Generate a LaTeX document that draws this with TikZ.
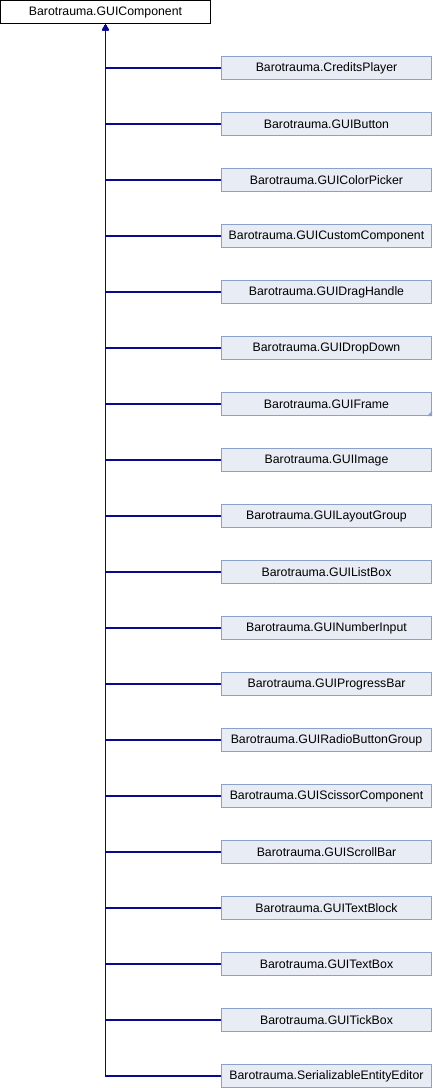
\documentclass[tikz,border=0pt]{standalone}
\usepackage{fontspec}
\setmainfont{Liberation Sans}
\usetikzlibrary{arrows.meta}
\definecolor{boxfill}{RGB}{232,236,245}
\definecolor{boxdraw}{RGB}{140,160,204}
\definecolor{edgecol}{RGB}{10,10,145}
\tikzset{
  parentbox/.style={draw=black, fill=white, line width=1pt, minimum width=210pt, minimum height=23pt, inner sep=0pt, font=\fontsize{12.3}{14}\selectfont},
  childbox/.style={draw=boxdraw, fill=boxfill, line width=1pt, minimum width=210pt, minimum height=23pt, inner sep=0pt, font=\fontsize{12.3}{14}\selectfont},
  inherit/.style={draw=edgecol, line width=1.2pt, -{Triangle[length=6pt,width=6pt]}, color=edgecol}
}
\begin{document}
\begin{tikzpicture}[x=1pt,y=-1pt]
\useasboundingbox (0,0) rectangle (432,1088);
\node[parentbox] (top) at (105.5,12) {Barotrauma.GUIComponent};
\foreach \name [count=\k from 0] in {CreditsPlayer,GUIButton,GUIColorPicker,GUICustomComponent,GUIDragHandle,GUIDropDown,GUIFrame,GUIImage,GUILayoutGroup,GUIListBox,GUINumberInput,GUIProgressBar,GUIRadioButtonGroup,GUIScissorComponent,GUIScrollBar,GUITextBlock,GUITextBox,GUITickBox,SerializableEntityEditor}{
  \node[childbox] (c\k) at (326.5,{68+56*\k}) {Barotrauma.\name};
  \draw[inherit] (c\k.west) -| (top.south);
}
\fill[boxdraw] (c6.south east) -- ++(0,-5) -- ++(-5,5) -- cycle;
\end{tikzpicture}
\end{document}
